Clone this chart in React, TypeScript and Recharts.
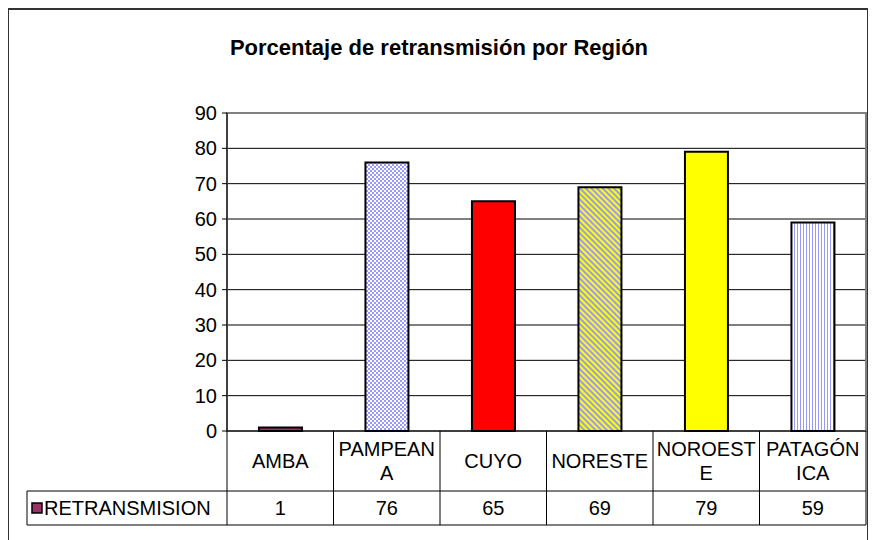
import React from 'react';
import { BarChart, Bar, XAxis, YAxis, CartesianGrid, Cell, ReferenceArea } from 'recharts';

const regions = ['AMBA', 'PAMPEANA', 'CUYO', 'NORESTE', 'NOROESTE', 'PATAGÓNICA'];
const retransmision = [1, 76, 65, 69, 79, 59];
const yTicks = [0, 10, 20, 30, 40, 50, 60, 70, 80, 90];
const seriesName = 'RETRANSMISION';
const title = 'Porcentaje de retransmisión por Región';

const data = regions.map((region, i) => ({ region, value: retransmision[i] }));

// excel-ish fills, some with patterns defined below
const fills = ['#993366', 'url(#checker)', '#FF0000', 'url(#diag)', '#FFFF00', 'url(#vstripe)'];

const FONT = '"Liberation Sans", Arial, sans-serif';
const FS = 20;
const ROW1 = 60;
const ROW2 = 34;
const LEGEND_W = 200;

let ctx: CanvasRenderingContext2D | null = null;
function measure(s: string) {
  if (!ctx) ctx = document.createElement('canvas').getContext('2d');
  if (!ctx) return s.length * FS * 0.65;
  ctx.font = `${FS}px "Liberation Sans", Arial`;
  // excel measures without pair kerning
  (ctx as any).fontKerning = 'none';
  return ctx.measureText(s).width;
}

// break by character like excel does in narrow table cells
function wrap(s: string, max: number) {
  const lines: string[] = [];
  let cur = '';
  for (const ch of s) {
    if (cur && measure(cur + ch) > max) {
      lines.push(cur);
      cur = ch;
    } else cur += ch;
  }
  if (cur) lines.push(cur);
  return lines;
}

function CategoryTick(props: any) {
  const { x, y, payload, index } = props;
  const half = payload.offset || 53.25;
  const lines = wrap(String(payload.value), half * 2 - 6);
  const lh = 24;
  const cy = y + ROW1 / 2;
  const first = cy - ((lines.length - 1) * lh) / 2 + 7;
  return (
    <g>
      <line x1={x - half} x2={x - half} y1={y} y2={y + ROW1} stroke="#000" />
      {index === regions.length - 1 && (
        <line x1={x + half} x2={x + half} y1={y} y2={y + ROW1} stroke="#000" />
      )}
      <text textAnchor="middle" fontFamily={FONT} fontSize={FS} fill="#000">
        {lines.map((l, i) => (
          <tspan key={i} x={x} y={first + i * lh}>
            {l}
          </tspan>
        ))}
      </text>
    </g>
  );
}

function ValueTick(props: any) {
  const { x, y, payload, index } = props;
  const half = payload.offset || 53.25;
  const bottom = y + ROW2;
  const cy = y + ROW2 / 2;
  const left = x - half - LEGEND_W;
  return (
    <g>
      <line x1={x - half} x2={x + half} y1={y} y2={y} stroke="#000" />
      <line x1={x - half} x2={x + half} y1={bottom} y2={bottom} stroke="#000" />
      <line x1={x - half} x2={x - half} y1={y} y2={bottom} stroke="#000" />
      {index === regions.length - 1 && (
        <line x1={x + half} x2={x + half} y1={y} y2={bottom} stroke="#000" />
      )}
      <text x={x} y={cy + 7} textAnchor="middle" fontFamily={FONT} fontSize={FS} fill="#000">
        {retransmision[index]}
      </text>
      {index === 0 && (
        <g>
          <line x1={left} x2={x - half} y1={y} y2={y} stroke="#000" />
          <line x1={left} x2={x - half} y1={bottom} y2={bottom} stroke="#000" />
          <line x1={left} x2={left} y1={y} y2={bottom} stroke="#000" />
          <rect x={left + 5} y={cy - 5} width={10} height={10} fill="#993366" stroke="#000" strokeWidth={1.5} />
          <text x={left + 17} y={cy + 7} fontFamily={FONT} fontSize={FS} fill="#000">
            {seriesName}
          </text>
        </g>
      )}
    </g>
  );
}

export default function App() {
  return (
    <div style={{ position: 'relative', width: 868, height: 532 }}>
      <div
        style={{
          position: 'absolute',
          left: -1,
          top: 0,
          width: 862,
          height: 540,
          border: '2px solid #333',
          boxSizing: 'border-box',
        }}
      />
      <BarChart
        width={868}
        height={532}
        data={data}
        margin={{ top: 105, right: 10, bottom: 15, left: 0 }}
        barCategoryGap="30%"
        style={{ position: 'absolute', left: 0, top: 0 }}
      >
        <defs>
          <pattern id="checker" width={4} height={4} patternUnits="userSpaceOnUse">
            <rect width={4} height={4} fill="#fff" />
            <rect width={2} height={2} fill="#9999FF" />
            <rect x={2} y={2} width={2} height={2} fill="#9999FF" />
          </pattern>
          <pattern
            id="diag"
            width={4}
            height={4}
            patternUnits="userSpaceOnUse"
            patternTransform="rotate(-45)"
          >
            <rect width={4} height={4} fill="#FFFF00" />
            <rect width={2} height={4} fill="#9999FF" />
          </pattern>
          <pattern id="vstripe" width={3} height={3} patternUnits="userSpaceOnUse">
            <rect width={3} height={3} fill="#fff" />
            <rect width={1} height={3} fill="#9999FF" />
          </pattern>
        </defs>
        <text
          x={431}
          y={47}
          textAnchor="middle"
          fontFamily={FONT}
          fontSize={22}
          fontWeight="bold"
          fill="#000"
        >
          {title}
        </text>
        <CartesianGrid vertical={false} stroke="#000" />
        <ReferenceArea y1={0} y2={90} fill="none" fillOpacity={0} stroke="#808080" strokeWidth={2} />
        <XAxis
          dataKey="region"
          height={ROW1}
          interval={0}
          tickLine={false}
          tickSize={0}
          tickMargin={0}
          axisLine={{ stroke: '#000' }}
          tick={<CategoryTick />}
        />
        <XAxis
          xAxisId="table"
          dataKey="region"
          height={ROW2}
          interval={0}
          tickLine={false}
          tickSize={0}
          tickMargin={0}
          axisLine={false}
          tick={<ValueTick />}
        />
        <YAxis
          width={219}
          domain={[0, 90]}
          ticks={yTicks}
          interval={0}
          tickSize={5}
          tickMargin={5}
          axisLine={{ stroke: '#000' }}
          tickLine={{ stroke: '#000' }}
          tick={{ fill: '#000', fontFamily: FONT, fontSize: FS }}
        />
        <Bar dataKey="value" name={seriesName} stroke="#000" strokeWidth={2} isAnimationActive={false}>
          {data.map((d, i) => (
            <Cell key={d.region} fill={fills[i]} />
          ))}
        </Bar>
      </BarChart>
    </div>
  );
}
